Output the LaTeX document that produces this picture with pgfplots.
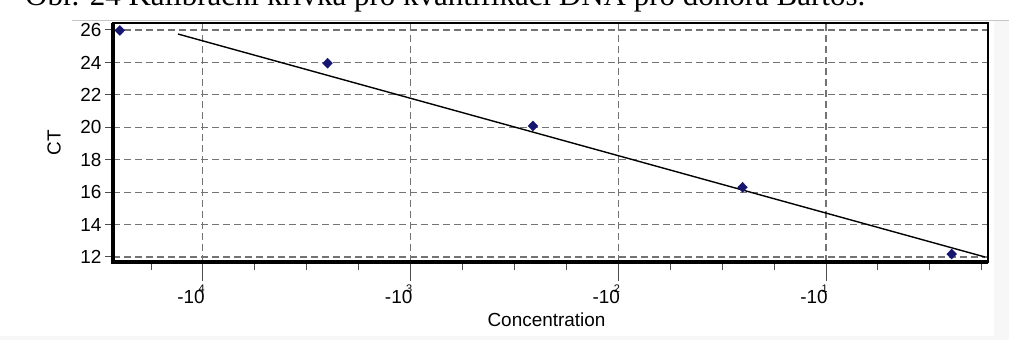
\documentclass[border=0pt]{standalone}
\usepackage{fontspec}
\setmainfont{Liberation Sans}
\newfontfamily\titlefont{Liberation Serif}
\usepackage{pgfplots}
\pgfplotsset{compat=1.18}
\definecolor{ptnavy}{RGB}{22,22,112}
\definecolor{gridgray}{RGB}{115,115,115}

\pgfplotstableread{
u     ct
0.600 25.97
1.600 23.95
2.589 20.08
3.598 16.30
4.605 12.18
}\ptdata

\pgfplotstableread{
u     ct
0.880 25.75
4.765 12.00
}\fitline

\begin{document}
\begin{tikzpicture}[x=1bp,y=1bp]
\path[use as bounding box] (0,0) rectangle (1009,340);
\clip (0,0) rectangle (1009,340);
\fill[gray!6] (0,0) rectangle (1009,4);
\fill[gray!6] (994,4) rectangle (1009,320);
\node[anchor=base west, inner sep=0] at (25,334.5)
  {\resizebox{840bp}{!}{\titlefont Obr. 24 Kalibrační křivka pro kvantifikaci DNA pro donora Bartoš.}};
\draw[gray!45, line width=0.8bp] (72,320) -- (1009,320);
\begin{axis}[
  at={(113bp,78bp)}, anchor=south west, scale only axis,
  width=875bp, height=239bp,
  xmin=0.567, xmax=4.78, ymin=11.69, ymax=26.43,
  /pgf/number format/assume math mode=true,
  xtick={1,2,3,4}, xticklabels={},
  minor xtick={0.75,1.25,1.5,1.75,2.25,2.5,2.75,3.25,3.5,3.75,4.25,4.5,4.75},
  extra x ticks={1,2,3,4},
  extra x tick labels={
    {-10\llap{\raisebox{0.62em}{\fontsize{11}{11}\selectfont 4}}},
    {-10\llap{\raisebox{0.62em}{\fontsize{11}{11}\selectfont 3}}},
    {-10\llap{\raisebox{0.62em}{\fontsize{11}{11}\selectfont 2}}},
    {-10\llap{\raisebox{0.62em}{\fontsize{11}{11}\selectfont 1}}}},
  extra x tick style={major tick length=19bp, grid=none,
    xticklabel style={xshift=-12bp}},
  ytick={12,14,...,26},
  tick align=outside, tick pos=left,
  major tick length=8bp, minor tick length=8bp,
  tick style={line width=1bp, black!70},
  grid=major,
  major grid style={line width=1.1bp, gridgray, dash pattern=on 7bp off 4bp},
  axis line style={line width=2bp, black},
  ticklabel style={font=\fontsize{19}{21}\selectfont},
  xlabel={Concentration}, ylabel={CT},
  every axis x label/.style={at={(axis description cs:0.5,0)}, anchor=center, yshift=-58bp, xshift=-4bp, font=\fontsize{19}{21}\selectfont},
  every axis y label/.style={at={(axis description cs:0,0.5)}, anchor=center, xshift=-59bp, rotate=90, font=\fontsize{19}{21}\selectfont},
  clip=false,
]
\addplot[black, line width=1.4bp, no marks] table[x=u, y=ct] {\fitline};
\addplot[only marks, mark=diamond*, mark size=5bp, mark options={xscale=1.3, fill=ptnavy, draw=ptnavy}] table[x=u, y=ct] {\ptdata};
\draw[black, line width=4bp] (rel axis cs:0,1) -- (rel axis cs:0,0) -- (rel axis cs:1,0);
\end{axis}
\end{tikzpicture}
\end{document}
